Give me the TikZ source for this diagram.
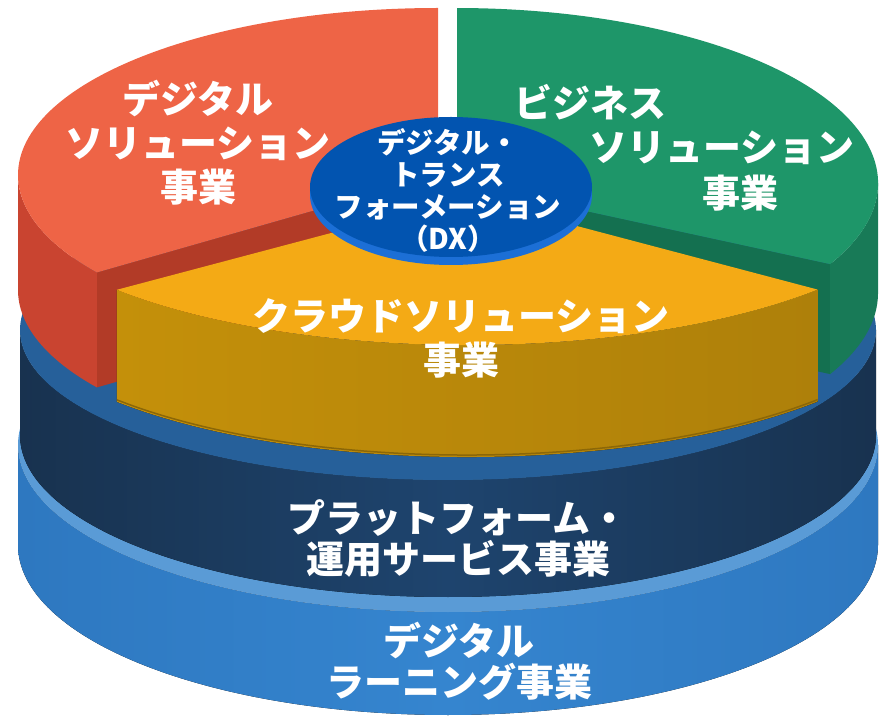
\documentclass[tikz,border=0pt]{standalone}
\usepackage{fontspec}
\usepackage{tikz}
\newfontfamily\jpfont{Noto Sans CJK JP}
\definecolor{redtop}{HTML}{EE6446}
\definecolor{redside}{HTML}{C94430}
\definecolor{redcut}{HTML}{B23B27}
\definecolor{greentop}{HTML}{1E9669}
\definecolor{greenside}{HTML}{187A57}
\definecolor{greencut}{HTML}{147050}
\definecolor{yeltop}{HTML}{F4AA15}
\definecolor{yelside}{HTML}{C4900A}
\definecolor{yeldark}{HTML}{AE800A}
\definecolor{dxtop}{HTML}{0254B0}
\definecolor{dxrim}{HTML}{1C6FD6}
\definecolor{navytop}{HTML}{26609A}
\definecolor{navyside}{HTML}{1E446E}
\definecolor{navydark}{HTML}{18324F}
\definecolor{lbtop}{HTML}{5A9BD6}
\definecolor{lbside}{HTML}{3585CF}
\definecolor{lbdark}{HTML}{2E78C0}

\begin{document}
\begin{tikzpicture}[x=1pt,y=1pt,
  lbl/.style={text=white,font=\jpfont\bfseries\fontsize{38}{44}\selectfont,align=center,inner sep=0pt},
  dxlbl/.style={lbl,font=\jpfont\bfseries\fontsize{28.5}{32}\selectfont}]
  \useasboundingbox (0,0) rectangle (881,721);

  % bottom layer
  \fill[left color=lbdark,right color=lbdark,middle color=lbside]
    (18,276) -- (18,176) arc[start angle=180,end angle=360,x radius=430,y radius=170]
    -- (878,276) arc[start angle=0,end angle=-180,x radius=430,y radius=167] -- cycle;
  \fill[lbtop] (448,276) ellipse[x radius=430,y radius=167];

  % platform layer
  \fill[left color=navydark,right color=navydark,middle color=navyside]
    (20,391) -- (20,286) arc[start angle=180,end angle=360,x radius=428,y radius=162]
    -- (876,391) arc[start angle=0,end angle=-180,x radius=428,y radius=150] -- cycle;
  \fill[navytop] (448,391) ellipse[x radius=428,y radius=150];

  % red slice
  \fill[redcut] (96.9,448.6) -- (438,546) -- (438,431) -- (96.9,333.6) -- cycle;
  \fill[redside] (18,546) arc[start angle=180,end angle=215.7,x radius=420,y radius=167]
    -- ++(0,-115) arc[start angle=215.7,end angle=180,x radius=420,y radius=167] -- cycle;
  \fill[redtop] (438,546) -- (438,713) arc[start angle=90,end angle=215.7,x radius=420,y radius=167] -- cycle;

  % green slice
  \fill[greencut] (830.1,456.9) -- (457,538) -- (457,428) -- (830.1,346.9) -- cycle;
  \fill[greenside] (830.1,456.9) arc[start angle=-27.6,end angle=0,x radius=421,y radius=175]
    -- ++(0,-110) arc[start angle=0,end angle=-27.6,x radius=421,y radius=175] -- cycle;
  \fill[greentop] (457,538) -- (830.1,456.9) arc[start angle=-27.6,end angle=90,x radius=421,y radius=175] -- cycle;

  % yellow slice
  \fill[left color=yelside,right color=yeldark]
    (116.8,431.2) arc[start angle=221.7,end angle=318.4,x radius=469,y radius=165]
    -- ++(0,-112) arc[start angle=318.4,end angle=221.7,x radius=469,y radius=165] -- cycle;
  \draw[yeldark!80!black,line width=1.5pt] (116.8,321.2) arc[start angle=221.7,end angle=318.4,x radius=469,y radius=165];
  \fill[yeltop] (467,524) -- (116.8,431.2) arc[start angle=221.7,end angle=318.4,x radius=469,y radius=165] -- cycle;

  % centre disc
  \fill[dxrim] (451,526) ellipse[x radius=141,y radius=70];
  \fill[dxtop] (451,534) ellipse[x radius=141,y radius=70];

  \node[lbl] (ds) at (198,578) {デジタル\\ソリューション\\事業};
  \node[lbl] (bs1) at (590,619) {ビジネス};
  \node[lbl] (bs2) at (722,573) {ソリューション};
  \node[lbl] (bs3) at (740,528) {事業};
  \node[dxlbl] (dx) at (448,531) {デジタル・\\トランス\\フォーメーション\\（DX）};
  \node[lbl] (cs) at (461,383) {クラウドソリューション\\事業};
  \node[lbl,font=\jpfont\bfseries\fontsize{38}{41}\selectfont] (ps) at (458,183) {プラットフォーム・\\運用サービス事業};
  \node[lbl,font=\jpfont\bfseries\fontsize{38}{41}\selectfont] (dl) at (459,60) {デジタル\\ラーニング事業};
\end{tikzpicture}
\end{document}
